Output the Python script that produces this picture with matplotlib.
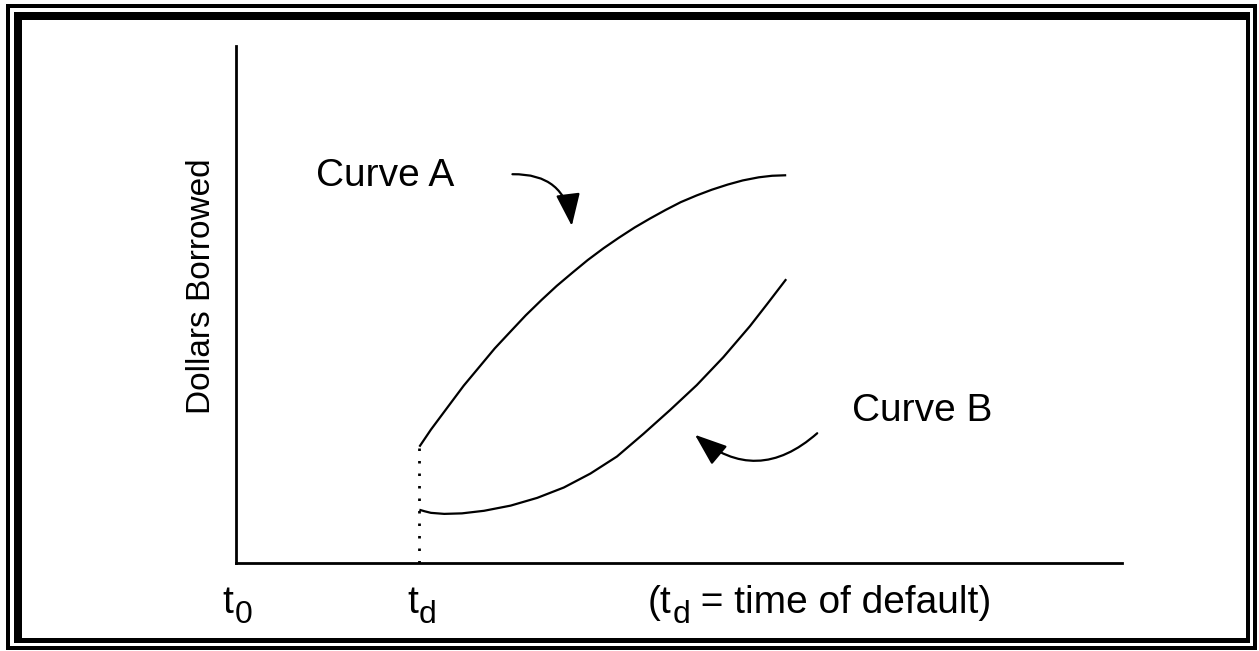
import matplotlib
matplotlib.use("Agg")
import matplotlib.pyplot as plt
from matplotlib.patches import Rectangle
from matplotlib.transforms import IdentityTransform

plt.rcParams['font.family'] = ['Liberation Sans', 'DejaVu Sans']

W, H = 1259, 651

# time of default and the two borrowing curves
t_d = 2.07
curve_a_t = [2.07, 2.20, 2.40, 2.57, 2.75, 2.92, 3.10, 3.27, 3.45, 3.62, 3.80, 3.97, 4.15,
             4.32, 4.50, 4.67, 4.85, 5.02, 5.20, 5.37, 5.55, 5.72, 5.90, 6.05, 6.21]
curve_a_y = [2.25, 2.58, 3.04, 3.43, 3.80, 4.15, 4.48, 4.79, 5.09, 5.36, 5.62, 5.86, 6.09,
             6.29, 6.49, 6.66, 6.83, 6.98, 7.11, 7.22, 7.32, 7.40, 7.46, 7.49, 7.50]
curve_b_t = [2.07, 2.13, 2.20, 2.35, 2.55, 2.80, 3.10, 3.40, 3.70, 4.00, 4.30, 4.60,
             4.90, 5.20, 5.50, 5.80, 6.00, 6.21]
curve_b_y = [1.03, 1.00, 0.97, 0.95, 0.96, 1.01, 1.11, 1.26, 1.46, 1.73, 2.06, 2.50,
             2.96, 3.44, 3.98, 4.58, 5.02, 5.49]

# labels and their arrows
label_a = "Curve A"
label_b = "Curve B"
label_a_pos = (0.90, 7.29)
label_b_pos = (6.95, 2.75)
arrow_a = [(3.12, 7.52), (3.79, 6.52)]
arrow_b = [(6.56, 2.51), (5.18, 2.48)]
ylabel = "Dollars Borrowed"

fig = plt.figure(figsize=(W / 100, H / 100), dpi=100)


def box(x0, y0, x1, y1):
    # black bar given in pixel coords (top-left origin)
    fig.add_artist(Rectangle((x0 / W, 1 - y1 / H), (x1 - x0) / W, (y1 - y0) / H,
                             transform=fig.transFigure, color='black', lw=0))


# double frame round the figure
box(6, 4, 1257, 7.5)
box(6, 4, 10, 650)
box(1253, 4, 1257, 650)
box(6, 646, 1257, 650)
box(14, 12, 1250, 20)
box(14, 12, 22, 643)
box(1246, 12, 1250, 643)
box(14, 638, 1250, 643)

ax = fig.add_axes([236 / W, 1 - 563 / H, (1122 - 236) / W, (563 - 46) / H])
ax.set_xlim(0, 10)
ax.set_ylim(0, 10)
ax.patch.set_alpha(0)
for s in ['top', 'right']:
    ax.spines[s].set_visible(False)
for s in ['left', 'bottom']:
    ax.spines[s].set_linewidth(2)
ax.set_xticks([])
ax.set_yticks([])

ax.plot(curve_a_t, curve_a_y, color='black', lw=1.6, solid_capstyle='butt')
ax.plot(curve_b_t, curve_b_y, color='black', lw=1.6, solid_capstyle='butt')
ax.plot([t_d, t_d], [0, curve_a_y[0]], color='black', lw=2, linestyle=(0, (0.9, 3.6)))

ax.text(*label_a_pos, label_a, fontsize=28, va='baseline')
ax.text(*label_b_pos, label_b, fontsize=28, va='baseline')

for (start, tip), rad in [(arrow_a, -0.45), (arrow_b, -0.43)]:
    ax.annotate("", xy=tip, xytext=start,
                arrowprops=dict(arrowstyle="-|>,head_length=2.0,head_width=0.75",
                                connectionstyle="arc3,rad=%s" % rad, mutation_scale=10,
                                color='black', lw=1.6, shrinkA=0, shrinkB=0))

fig.text(201 / W, 1 - 286 / H, ylabel, rotation=90, fontsize=24, ha='center', va='center')

renderer = fig.canvas.get_renderer()


def sub_label(x, y, main, sub, rest=""):
    t = ax.text(x, y, main, fontsize=28, va='baseline', clip_on=False)
    bx, by = ax.transData.transform((x, y))
    x1 = t.get_window_extent(renderer).x1
    s = ax.text(x1 + 1, by - 10, sub, fontsize=23, va='baseline',
                transform=IdentityTransform())
    if rest:
        x2 = s.get_window_extent(renderer).x1
        ax.text(x2, by, rest, fontsize=28, va='baseline', transform=IdentityTransform())


sub_label(-0.15, -0.97, "t", "0")
sub_label(1.93, -0.97, "t", "d")
sub_label(4.65, -0.97, "(t", "d", " = time of default)")

fig.savefig("out.png", dpi=100)
